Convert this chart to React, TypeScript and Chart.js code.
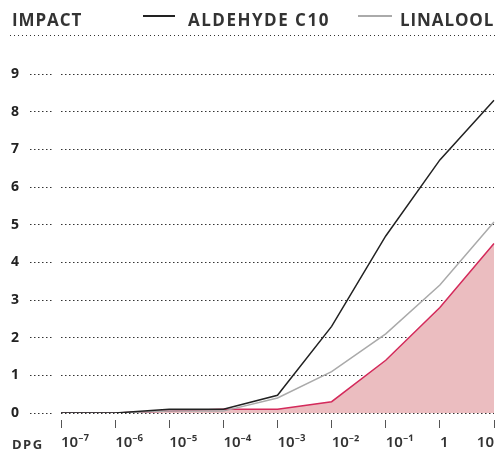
import { useEffect, useRef } from 'react';
import { Chart, registerables } from 'chart.js';

Chart.register(...registerables);

const categories = ['10⁻⁷', '10⁻⁶', '10⁻⁵', '10⁻⁴', '10⁻³', '10⁻²', '10⁻¹', '1', '10'];
const aldehydeC10 = [0, 0, 0.1, 0.1, 0.47, 2.3, 4.7, 6.72, 8.3];
const linalool = [0, 0, 0.05, 0.05, 0.4, 1.1, 2.1, 3.4, 5.07];
const baseline = [0, 0, 0.05, 0.1, 0.1, 0.3, 1.4, 2.8, 4.5];
const yMin = 0;
const yMax = 9;

const FONT = '"Open Sans", Lato, "DejaVu Sans", sans-serif';
const TICK_FONT = '"Noto Sans", "Open Sans", sans-serif';

// keeps the last x label inside the canvas (right-aligned to its tick)
const lastLabelInside = {
  id: 'lastLabelInside',
  beforeDraw(chart: any) {
    const items = chart.scales.x.getLabelItems();
    if (items.length) {
      items[items.length - 1].options.textAlign = 'right';
    }
  },
};

export default function App() {
  const ref = useRef<HTMLCanvasElement>(null);

  useEffect(() => {
    const chart = new Chart(ref.current!, {
      type: 'line',
      data: {
        labels: categories,
        datasets: [
          {
            label: 'ALDEHYDE C10',
            data: aldehydeC10,
            borderColor: '#222222',
            borderWidth: 1.5,
            fill: false,
            pointRadius: 0,
          },
          {
            label: 'LINALOOL',
            data: linalool,
            borderColor: '#aaaaaa',
            borderWidth: 1.5,
            fill: false,
            pointRadius: 0,
          },
          {
            label: '',
            data: baseline,
            borderColor: '#d42a5b',
            borderWidth: 1.5,
            backgroundColor: '#ebbdc0',
            fill: 'origin',
            pointRadius: 0,
          },
        ],
      },
      plugins: [lastLabelInside],
      options: {
        responsive: false,
        animation: false,
        devicePixelRatio: 1,
        layout: { padding: { left: 11, right: 3, top: 74, bottom: 0 } },
        plugins: {
          legend: { display: false },
          tooltip: { enabled: false },
          title: { display: false },
        },
        elements: { line: { tension: 0 } },
        scales: {
          x: {
            offset: false,
            border: { display: false },
            grid: {
              drawOnChartArea: false,
              drawTicks: true,
              tickLength: 15,
              tickColor: '#555555',
              tickWidth: 1,
              tickBorderDash: [0, 7, 8, 100],
            },
            ticks: {
              padding: 6,
              align: 'start',
              color: '#333333',
              font: { family: TICK_FONT, size: 15, weight: '600' },
              maxRotation: 0,
              autoSkip: false,
            },
            afterFit(s: any) {
              s.paddingLeft = 0;
              s.paddingRight = 0;
              s.height = 39;
            },
          },
          y: {
            min: yMin,
            max: yMax,
            border: { display: false, dash: [1.5, 2.5] },
            grid: {
              color: '#333333',
              lineWidth: 1,
              drawTicks: true,
              tickLength: 31,
              tickColor: '#333333',
              tickWidth: 1,
              tickBorderDash: [1.5, 2.5, 1.5, 2.5, 1.5, 2.5, 1.5, 2.5, 1.5, 2.5, 1.5, 2.5, 0, 100],
            },
            ticks: {
              stepSize: 1,
              crossAlign: 'far',
              color: '#222222',
              font: { family: FONT, size: 14, weight: 'bold' },
            },
            afterFit(s: any) {
              s.width = 50;
            },
          },
        },
      },
    } as any);
    return () => chart.destroy();
  }, []);

  const text: React.CSSProperties = {
    position: 'absolute',
    fontFamily: FONT,
    fontWeight: 700,
    fontSize: 17,
    letterSpacing: 0.9,
    color: '#333',
    lineHeight: '23px',
    whiteSpace: 'nowrap',
  };

  return (
    <div style={{ position: 'fixed', left: 0, top: 0, width: 497, height: 452, background: '#fff', overflow: 'hidden' }}>
      <canvas ref={ref} width={497} height={452} style={{ position: 'absolute', left: 0, top: 0, display: 'block' }} />
      <span style={{ ...text, left: 12, top: 8 }}>IMPACT</span>
      <div style={{ position: 'absolute', left: 143, top: 15, width: 32, height: 1.5, background: '#222' }} />
      <span style={{ ...text, left: 188, top: 8, letterSpacing: 1.5 }}>ALDEHYDE C10</span>
      <div style={{ position: 'absolute', left: 358, top: 15, width: 34, height: 1.5, background: '#aaa' }} />
      <span style={{ ...text, left: 400, top: 8 }}>LINALOOL</span>
      <div
        style={{
          position: 'absolute',
          left: 10,
          top: 35,
          width: 485,
          height: 1,
          backgroundImage: 'repeating-linear-gradient(to right, #333 0 1.5px, transparent 1.5px 4px)',
        }}
      />
      <span style={{ ...text, fontSize: 13, letterSpacing: 1.5, lineHeight: '16px', left: 12, top: 436 }}>DPG</span>
    </div>
  );
}
